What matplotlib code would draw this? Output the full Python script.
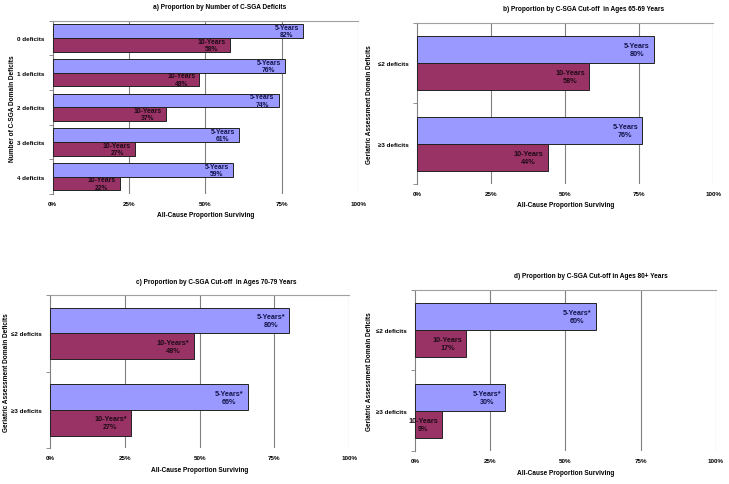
import matplotlib
matplotlib.use('Agg')
import matplotlib.pyplot as plt
import numpy as np

plt.rcParams['font.family'] = ['Liberation Sans', 'DejaVu Sans']
plt.rcParams['font.weight'] = 'bold'
plt.rcParams['axes.titleweight'] = 'bold'
plt.rcParams['axes.labelweight'] = 'bold'

# panel data
titles = ['a) Proportion by Number of C-SGA Deficits',
          'b) Proportion by C-SGA Cut-off  in Ages 65-69 Years',
          'c) Proportion by C-SGA Cut-off  in Ages 70-79 Years',
          'd) Proportion by C-SGA Cut-off in Ages 80+ Years']
ylabels = ['Number of C-SGA Domain Deficits',
           'Geriatric Assessment Domain Deficits',
           'Geriatric Assessment Domain Deficits',
           'Geriatric Assessment Domain Deficits']
cats_a = ['0 deficits', '1 deficits', '2 deficits', '3 deficits', '4 deficits']
cats_cut = ['\u22642 deficits', '\u22653 deficits']

five_a = [82, 76, 74, 61, 59]
ten_a = [58, 48, 37, 27, 22]
five_b = [80, 76]
ten_b = [58, 44]
five_c = [80, 66]
ten_c = [48, 27]
five_d = [60, 30]
ten_d = [17, 9]

five_lab = ['5-Years', '5-Years', '5-Years*', '5-Years*']
ten_lab = ['10-Years', '10-Years', '10-Years*', '10-Years']

xticks = [0, 25, 50, 75, 100]

c5 = '#9999FF'
c10 = '#993366'
grid_c = '#808080'

# axes boxes in figure fraction [left, bottom, width, height]
boxes = [[0.0723, 0.598, 0.419, 0.357],
         [0.5724, 0.6186, 0.406, 0.332],
         [0.069, 0.0736, 0.410, 0.316],
         [0.5697, 0.068, 0.412, 0.3326]]
title_x = [0.545, 0.563, 0.556, 0.584]
ylab_x = [-0.131, -0.16, -0.148, -0.154]
bar_h = [0.395, 0.333, 0.333, 0.333]

fig = plt.figure(figsize=(7.29, 4.85), dpi=100)

panels = [(cats_a, five_a, ten_a), (cats_cut, five_b, ten_b),
          (cats_cut, five_c, ten_c), (cats_cut, five_d, ten_d)]

fs_tick = 4.5
fs_lab = 4.7
fs_bar = [4.9, 5.2, 5.2, 5.2]
spacing = [1.05, 1.2, 1.2, 1.2]
for k, (cats, five, ten) in enumerate(panels):
    ax = fig.add_axes(boxes[k])
    n = len(cats)
    y = np.arange(n)
    h = bar_h[k]
    ax.barh(y - h / 2, five, height=h, color=c5, edgecolor='#222222', linewidth=0.7, zorder=3)
    ax.barh(y + h / 2, ten, height=h, color=c10, edgecolor='#222222', linewidth=0.7, zorder=3)

    for i in range(n):
        ax.annotate('%s\n%d%%' % (five_lab[k], five[i]), xy=(five[i], y[i] - h / 2),
                    xytext=(-3, 0), textcoords='offset points', ha='right', va='center',
                    multialignment='center', linespacing=spacing[k],
                    fontsize=fs_bar[k], color='#14144a', zorder=4)
        ax.annotate('%s\n%d%%' % (ten_lab[k], ten[i]), xy=(ten[i], y[i] + h / 2),
                    xytext=(-3, 0), textcoords='offset points', ha='right', va='center',
                    multialignment='center', linespacing=spacing[k],
                    fontsize=fs_bar[k], color='#1e0a16', zorder=4)

    ax.set_xlim(0, 100)
    ax.set_ylim(n - 0.5, -0.5)
    ax.set_xticks(xticks)
    ax.set_xticklabels(['%d%%' % t for t in xticks])
    ax.set_yticks(y)
    ax.set_yticklabels(cats)
    ax.set_yticks(np.arange(n + 1) - 0.5, minor=True)
    ax.tick_params(axis='y', which='major', length=0, pad=6, labelsize=fs_tick)
    ax.tick_params(axis='y', which='minor', length=3, width=0.6, color=grid_c)
    ax.tick_params(axis='x', length=0, pad=5, labelsize=fs_tick)
    for t in xticks[1:]:
        ax.axvline(t, color=grid_c, lw=0.8, zorder=1)
    for s in ['right', 'bottom']:
        ax.spines[s].set_visible(False)
    ax.spines['top'].set_color('#a0a0a0')
    ax.spines['top'].set_linewidth(0.8)
    ax.spines['left'].set_color(grid_c)
    ax.spines['left'].set_linewidth(0.8)

    ax.set_xlabel('All-Cause Proportion Surviving', fontsize=fs_lab, labelpad=4)
    ax.set_ylabel(ylabels[k], fontsize=fs_lab, va='center')
    ax.yaxis.set_label_coords(ylab_x[k], 0.5)
    ax.set_title(titles[k], fontsize=fs_lab, x=title_x[k], pad=9)

fig.savefig('out.png', dpi=100)
